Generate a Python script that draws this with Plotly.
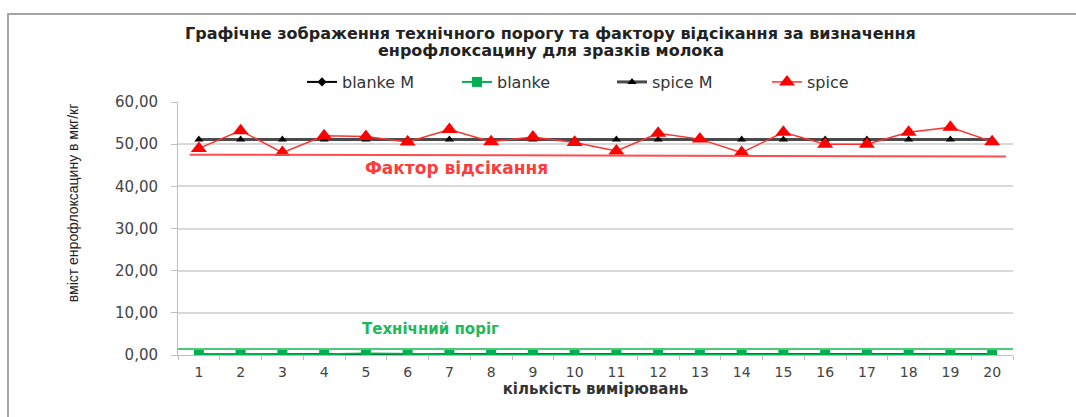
import plotly.graph_objects as go

# measurement numbers
runs = list(range(1, 21))

# enrofloxacin content, µg/kg
blanke = [0.25, 0.2, 0.2, 0.2, 0.35, 0.2, 0.2, 0.2, 0.2, 0.35,
          0.35, 0.2, 0.3, 0.2, 0.2, 0.2, 0.2, 0.2, 0.35, 0.2]
blanke_m = [0.24] * 20
spice = [49.0, 53.2, 48.0, 52.0, 51.8, 50.5, 53.5, 50.6, 51.7, 50.4,
         48.4, 52.6, 51.2, 48.0, 52.8, 50.0, 50.0, 52.8, 54.0, 50.6]
spice_m = [51.1] * 20

# reference levels
tech_threshold = 1.4          # технічний поріг
cutoff_factor = [47.5, 47.1]  # фактор відсікання (start, end)

y_ticks = [0, 10, 20, 30, 40, 50, 60]
y_tick_text = ["0,00", "10,00", "20,00", "30,00", "40,00", "50,00", "60,00"]

title_lines = [
    "Графічне зображення технічного порогу та фактору відсікання за визначення",
    "енрофлоксацину для зразків молока",
]

FONT = "DejaVu Sans"
GRID = "#d9d9d9"
AXIS = "#bfbfbf"

fig = go.Figure()

fig.add_trace(go.Scatter(
    x=runs, y=blanke_m, name="blanke M", mode="lines+markers",
    line=dict(color="black", width=2),
    marker=dict(symbol="diamond", size=7, color="black"),
))
fig.add_trace(go.Scatter(
    x=runs, y=blanke, name="blanke", mode="lines+markers",
    line=dict(color="#00b050", width=2),
    marker=dict(symbol="square", size=10, color="#00b050"),
))
fig.add_trace(go.Scatter(
    x=runs, y=spice_m, name="spice M", mode="lines+markers",
    line=dict(color="#4a4a4a", width=3),
    marker=dict(symbol="triangle-up", size=8, color="black"),
))
fig.add_trace(go.Scatter(
    x=runs, y=spice, name="spice", mode="lines+markers",
    line=dict(color="#ff3030", width=1.5),
    marker=dict(symbol="triangle-up", size=14, color="#ff0000"),
))

# threshold and cut-off lines
fig.add_shape(type="line", xref="x", yref="y",
              x0=0.5, x1=20.5, y0=tech_threshold, y1=tech_threshold,
              line=dict(color="#4cc97b", width=2), layer="above")
fig.add_shape(type="line", xref="x", yref="y",
              x0=0.78, x1=20.33, y0=cutoff_factor[0], y1=cutoff_factor[1],
              line=dict(color="#ff4d4d", width=2), layer="above")

fig.add_annotation(x=7.16, y=44.3, xref="x", yref="y", showarrow=False,
                   text="<b>Фактор відсікання</b>",
                   font=dict(family=FONT, size=17, color="#ff3b3b"))
fig.add_annotation(x=6.54, y=6.2, xref="x", yref="y", showarrow=False,
                   text="<b>Технічний поріг</b>",
                   font=dict(family=FONT, size=15, color="#22b85a"))

# chart title, two centred lines
for line_text, ypos in zip(title_lines, [1.2727, 1.2016]):
    fig.add_annotation(x=0.4467, y=ypos, xref="paper", yref="paper",
                       xanchor="center", yanchor="middle", showarrow=False,
                       text="<b>" + line_text + "</b>",
                       font=dict(family=FONT, size=16, color="#222"))

# y-axis title
fig.add_annotation(x=-0.1257, y=0.6, xref="paper", yref="paper",
                   xanchor="center", yanchor="middle",
                   showarrow=False, textangle=-90,
                   text="вміст енрофлоксацину в мкг/кг",
                   font=dict(family="Liberation Sans", size=14, color="#222"))

# outer chart frame
fig.add_shape(type="path", xref="paper", yref="paper",
              path="M -0.2036 -0.4 L -0.2036 1.348 L 1.2 1.348",
              line=dict(color="#a6a6a6", width=2))

fig.update_layout(
    width=1076, height=417,
    margin=dict(l=178, r=63, t=102, b=62),
    paper_bgcolor="white", plot_bgcolor="white",
    font=dict(family=FONT, color="#333"),
    legend=dict(orientation="h", x=0.1485, xanchor="left",
                y=1.079, yanchor="middle",
                font=dict(family=FONT, size=16, color="#333"),
                entrywidth=110, entrywidthmode="pixels",
                itemwidth=30, tracegroupgap=0),
    showlegend=True,
)

fig.update_xaxes(
    range=[0.5, 20.5], tickmode="array", tickvals=runs,
    ticktext=[str(r) for r in runs], ticks="",
    ticklabelstandoff=4,
    showgrid=False, zeroline=False,
    showline=True, linecolor=AXIS, linewidth=1,
    tickfont=dict(family=FONT, size=14, color="#444"),
    minor=dict(tick0=0.5, dtick=1, ticks="outside", ticklen=4,
               tickcolor=AXIS, showgrid=False),
    title=dict(text="<b>кількість вимірювань</b>", standoff=3,
               font=dict(family=FONT, size=15, color="#333")),
)
fig.update_yaxes(
    range=[0, 60], tickmode="array", tickvals=y_ticks, ticktext=y_tick_text,
    ticks="outside", ticklen=6, tickcolor=AXIS,
    ticklabelstandoff=10,
    showgrid=True, gridcolor=GRID, gridwidth=1.5, zeroline=False,
    showline=True, linecolor=AXIS, linewidth=1,
    tickfont=dict(family=FONT, size=15, color="#444"),
)

fig.write_html("out.html")
